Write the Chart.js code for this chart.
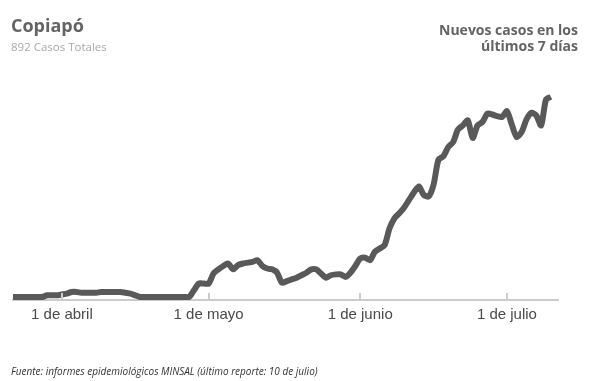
<!DOCTYPE html>
<html>
<head>
<meta charset="utf-8">
<script src="https://cdn.jsdelivr.net/npm/chart.js@4.4.1/dist/chart.umd.min.js"></script>
<style>
  html, body { margin: 0; padding: 0; background: #fff; }
  body { width: 600px; height: 381px; position: relative; overflow: hidden; font-family: "Open Sans", sans-serif; }
  #wrap { position: absolute; left: 0; top: 0; width: 600px; height: 381px; }
  .t { position: absolute; white-space: nowrap; }
  #title { left: 11px; top: 16px; font-size: 18px; line-height: 18px; font-weight: 700; color: #646464; }
  #sub { left: 11px; top: 41px; font-size: 11.5px; line-height: 11.5px; color: #a8a8a8; }
  #right { right: 22px; top: 22px; font-size: 14px; line-height: 15.5px; font-weight: 700; color: #646464; text-align: right; }
  #foot { left: 11px; top: 366px; font-size: 10px; line-height: 10px; font-style: italic; color: #333; }
</style>
</head>
<body>
<div id="wrap"><canvas id="c" width="600" height="381"></canvas></div>
<div class="t" id="title">Copiapó</div>
<div class="t" id="sub">892 Casos Totales</div>
<div class="t" id="right">Nuevos casos en los<br>últimos 7 días</div>
<div class="t" id="foot">Fuente: informes epidemiológicos MINSAL (último reporte: 10 de julio)</div>
<script>
// Data: first date of the series, and new cases in the last 7 days (one value per day)
const firstDate = '2020-03-22';
const casos7dias = [
  0, 0, 0, 0, 0, 0, 0,
  2, 2, 2,
  3, 4, 6, 6, 5, 5, 5, 5, 6, 6, 6, 6, 6, 5, 4, 2,
  0, 0, 0, 0, 0, 0, 0, 0, 0, 0, 0,
  8, 16, 16, 16,
  28, 33, 37, 40, 33, 38, 40, 41, 42, 44,
  37, 34, 33, 29, 17, 19, 21, 23, 26, 29,
  33, 33, 28, 23, 26, 27, 27, 24, 29, 37,
  46, 47, 44, 54, 58, 62, 82, 94, 100, 107,
  116, 125, 132, 122, 120, 134, 164, 168, 179, 185,
  200, 205, 211, 190, 205, 209, 219, 218, 216, 215,
  222, 206, 191, 197, 212, 220, 217, 205, 236, 239
];
const tickDates = ['2020-04-01', '2020-05-01', '2020-06-01', '2020-07-01'];
const tickLabels = ['1 de abril', '1 de mayo', '1 de junio', '1 de julio'];
const axisStart = '2020-03-22';
const axisEnd = '2020-07-12';

const DAY = 86400000;
const ref = Date.UTC(2020, 3, 1);
function dayNum(s) { const p = s.split('-').map(Number); return (Date.UTC(p[0], p[1] - 1, p[2]) - ref) / DAY; }
const d0 = dayNum(firstDate);
const points = casos7dias.map((v, i) => ({ x: d0 + i, y: v }));
const tickVals = tickDates.map(dayNum);

const tickMarks = {
  id: 'tickMarks',
  afterDatasetsDraw(chart) {
    const xs = chart.scales.x, ctx = chart.ctx, b = chart.chartArea.bottom;
    ctx.save();
    ctx.strokeStyle = '#cccccc';
    ctx.lineWidth = 2;
    tickVals.forEach(v => {
      const x = Math.round(xs.getPixelForValue(v));
      ctx.beginPath();
      ctx.moveTo(x, b - 7);
      ctx.lineTo(x, b - 1);
      ctx.stroke();
    });
    ctx.restore();
  }
};

new Chart(document.getElementById('c'), {
  type: 'line',
  data: {
    datasets: [{
      data: points,
      borderColor: '#595959',
      borderWidth: 6,
      pointRadius: 0,
      tension: 0.25,
      borderJoinStyle: 'round',
      fill: false
    }]
  },
  options: {
    responsive: false,
    animation: false,
    events: [],
    layout: { padding: { left: 13, right: 42, top: 80, bottom: 51 } },
    plugins: { legend: { display: false }, tooltip: { enabled: false } },
    scales: {
      x: {
        type: 'linear',
        min: dayNum(axisStart),
        max: dayNum(axisEnd) - 0.55,
        afterBuildTicks(scale) { scale.ticks = tickVals.map(v => ({ value: v })); },
        grid: { display: false, drawTicks: false },
        border: { display: true, color: '#cccccc', width: 2 },
        ticks: {
          autoSkip: false, maxRotation: 0, padding: 6,
          color: '#4a4a4a',
          font: { family: 'Liberation Sans', size: 15 },
          callback(v) { const i = tickVals.indexOf(v); return i >= 0 ? tickLabels[i] : ''; }
        }
      },
      y: {
        display: false,
        min: -3.6,
        max: 259.2
      }
    }
  },
  plugins: [tickMarks]
});
</script>
</body>
</html>
